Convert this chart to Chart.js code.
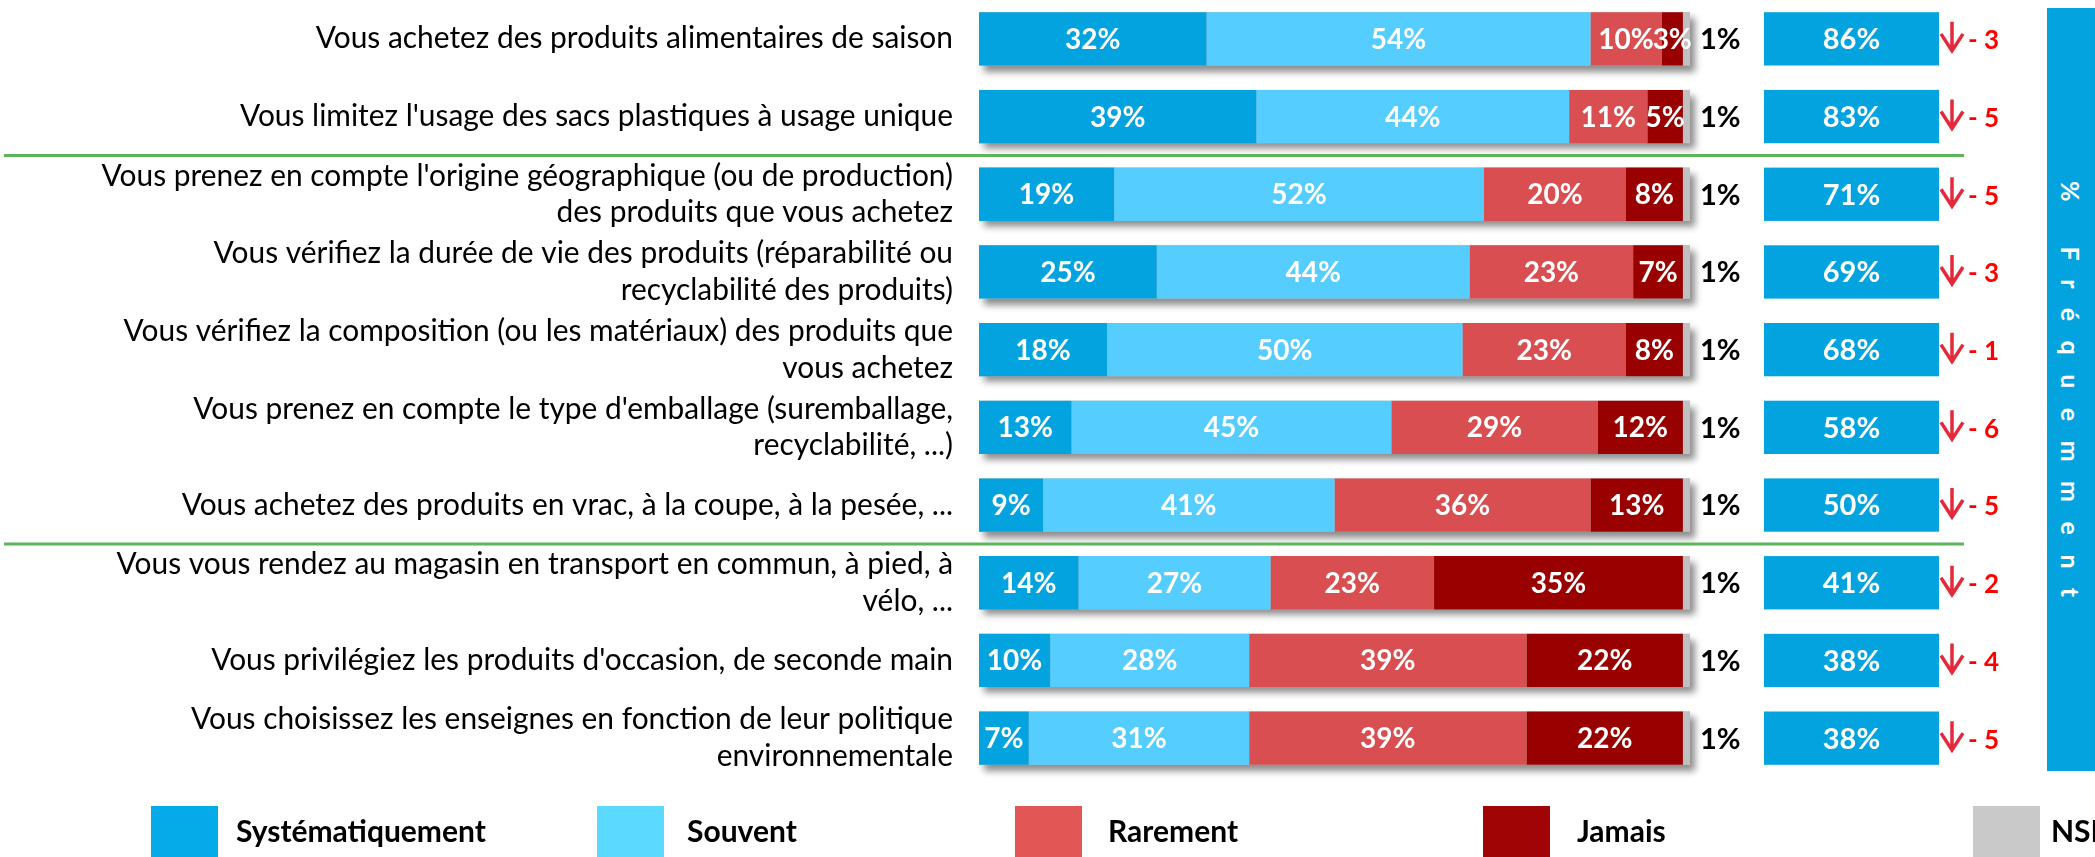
<!DOCTYPE html>
<html>
<head>
<meta charset="utf-8">
<script src="https://cdn.jsdelivr.net/npm/chart.js@4.4.1/dist/chart.umd.min.js"></script>
<style>
  html, body { margin: 0; padding: 0; background: #fff; overflow: hidden; }
  #wrap { position: relative; width: 2095px; height: 857px; overflow: hidden; }
  #myChart { position: absolute; left: 0; top: 0; }
  .leg-box { position: absolute; top: 806px; width: 67px; height: 51px; }
  .leg-txt { position: absolute; top: 812px; font: bold 30px Lato, sans-serif; line-height: 36px; color: #000; white-space: nowrap; }
  #side { position: absolute; left: 2047px; top: 8px; width: 48px; height: 763px; background: #03A3E0;
          display: flex; align-items: center; justify-content: center; }
  #side span { writing-mode: vertical-rl; color: #fff; font: bold 25px Lato, sans-serif; letter-spacing: 19.5px; padding-top: 19.5px; }
</style>
</head>
<body>
<div id="wrap">
  <canvas id="myChart" width="2095" height="857"></canvas>
  <div id="side"><span>% Fréquemment</span></div>
  <div id="legend"></div>
</div>
<script>
const categories = [
  "Vous achetez des produits alimentaires de saison",
  "Vous limitez l'usage des sacs plastiques à usage unique",
  ["Vous prenez en compte l'origine géographique (ou de production)", "des produits que vous achetez"],
  ["Vous vérifiez la durée de vie des produits (réparabilité ou", "recyclabilité des produits)"],
  ["Vous vérifiez la composition (ou les matériaux) des produits que", "vous achetez"],
  ["Vous prenez en compte le type d'emballage (suremballage,", "recyclabilité, ...)"],
  "Vous achetez des produits en vrac, à la coupe, à la pesée, ...",
  ["Vous vous rendez au magasin en transport en commun, à pied, à", "vélo, ..."],
  "Vous privilégiez les produits d'occasion, de seconde main",
  ["Vous choisissez les enseignes en fonction de leur politique", "environnementale"]
];
const systematiquement = [32, 39, 19, 25, 18, 13, 9, 14, 10, 7];
const souvent = [54, 44, 52, 44, 50, 45, 41, 27, 28, 31];
const rarement = [10, 11, 20, 23, 23, 29, 36, 23, 39, 39];
const jamais = [3, 5, 8, 7, 8, 12, 13, 35, 22, 22];
const nsp = [1, 1, 1, 1, 1, 1, 1, 1, 1, 1];
const frequemment = [86, 83, 71, 69, 68, 58, 50, 41, 38, 38];
const evolution = [-3, -5, -5, -3, -1, -6, -5, -2, -4, -5];
const seriesNames = ["Systématiquement", "Souvent", "Rarement", "Jamais", "NSP"];
const seriesColors = ["#03A3E0", "#55CDFF", "#D94F51", "#990000", "#C0C0C0"];
const legendColors = ["#05AAE9", "#5CD9FF", "#E25656", "#A00404", "#C9C9C9"];
const groupStarts = [2, 7];

// legend (positions of the slide layout)
const legX = [151, 597, 1015, 1483, 1973];
const legTxtX = [236, 687, 1108, 1577, 2051];
const legend = document.getElementById("legend");
seriesNames.forEach((name, i) => {
  const b = document.createElement("div");
  b.className = "leg-box";
  b.style.left = legX[i] + "px";
  b.style.background = legendColors[i];
  legend.appendChild(b);
  const t = document.createElement("div");
  t.className = "leg-txt";
  t.style.left = legTxtX[i] + "px";
  t.textContent = name;
  legend.appendChild(t);
});

const decor = {
  id: "decor",
  beforeDatasetsDraw(chart) {
    const ctx = chart.ctx;
    const first = chart.getDatasetMeta(0).data;
    const last = chart.getDatasetMeta(chart.data.datasets.length - 1).data;
    ctx.save();
    ctx.shadowColor = "rgba(0,0,0,0.45)";
    ctx.shadowBlur = 7;
    ctx.shadowOffsetX = 5;
    ctx.shadowOffsetY = 6;
    ctx.fillStyle = "#bbb";
    first.forEach((bar, i) => {
      ctx.fillRect(bar.base, bar.y - bar.height / 2, last[i].x - bar.base, bar.height);
    });
    ctx.restore();
  },
  afterDatasetsDraw(chart) {
    const ctx = chart.ctx;
    const ys = chart.scales.y;
    const area = chart.chartArea;
    ctx.save();
    ctx.textBaseline = "middle";

    // values inside the segments
    ctx.font = "bold 28px Lato";
    ctx.textAlign = "center";
    ctx.fillStyle = "#fff";
    for (let d = 0; d < 4; d++) {
      chart.getDatasetMeta(d).data.forEach((bar, i) => {
        ctx.fillText(chart.data.datasets[d].data[i] + "%", (bar.base + bar.x) / 2, bar.y + 1);
      });
    }

    // NSP value after the bar
    ctx.fillStyle = "#000";
    ctx.textAlign = "left";
    ctx.font = "bold 29px Lato";
    chart.getDatasetMeta(4).data.forEach((bar, i) => {
      ctx.fillText(nsp[i] + "%", bar.x + 10, bar.y + 1);
    });

    // % fréquemment boxes + evolution
    const boxL = area.right + 74, boxW = 175;
    chart.getDatasetMeta(0).data.forEach((bar, i) => {
      const top = bar.y - bar.height / 2;
      ctx.fillStyle = "#03A3E0";
      ctx.fillRect(boxL, top, boxW, bar.height);
      ctx.fillStyle = "#fff";
      ctx.textAlign = "center";
      ctx.font = "bold 29px Lato";
      ctx.fillText(frequemment[i] + "%", boxL + boxW / 2, bar.y + 1);

      const ax = boxL + boxW + 13;
      ctx.strokeStyle = "#E4293B";
      ctx.lineWidth = 3.5;
      ctx.lineCap = "butt";
      ctx.lineJoin = "miter";
      ctx.beginPath();
      ctx.moveTo(ax, bar.y - 17);
      ctx.lineTo(ax, bar.y + 12);
      ctx.moveTo(ax - 11, bar.y - 5);
      ctx.lineTo(ax, bar.y + 12);
      ctx.lineTo(ax + 11, bar.y - 5);
      ctx.stroke();

      ctx.fillStyle = "#FF0000";
      ctx.textAlign = "left";
      ctx.font = "bold 26px Lato";
      ctx.fillText("- " + Math.abs(evolution[i]), ax + 16, bar.y + 2);
    });

    // green separators between groups
    ctx.strokeStyle = "#5BB65B";
    ctx.lineWidth = 3;
    groupStarts.forEach(r => {
      const y = (ys.getPixelForValue(r - 1) + ys.getPixelForValue(r)) / 2;
      ctx.beginPath();
      ctx.moveTo(4, y);
      ctx.lineTo(area.right + 274, y);
      ctx.stroke();
    });
    ctx.restore();
  }
};

const values = [systematiquement, souvent, rarement, jamais, nsp];
new Chart(document.getElementById("myChart"), {
  type: "bar",
  data: {
    labels: categories,
    datasets: values.map((v, i) => ({
      label: seriesNames[i],
      data: v,
      backgroundColor: seriesColors[i],
      borderWidth: 0,
      barPercentage: 0.686,
      categoryPercentage: 1
    }))
  },
  options: {
    indexAxis: "y",
    responsive: false,
    animation: false,
    devicePixelRatio: 1,
    layout: { padding: { left: 0, right: 405, top: 0, bottom: 80 } },
    scales: {
      x: { stacked: true, min: 0, max: 100, display: false },
      y: {
        stacked: true,
        grid: { display: false, drawTicks: false },
        border: { display: false },
        afterFit(scale) {
          scale.width = 979;
          scale.paddingTop = 0;
          scale.paddingBottom = 0;
        },
        ticks: {
          autoSkip: false,
          padding: 26,
          color: "#000",
          font: { family: "Lato", size: 29.9, lineHeight: 1.23 }
        }
      }
    },
    plugins: { legend: { display: false }, tooltip: { enabled: false } }
  },
  plugins: [decor]
});
</script>
</body>
</html>
